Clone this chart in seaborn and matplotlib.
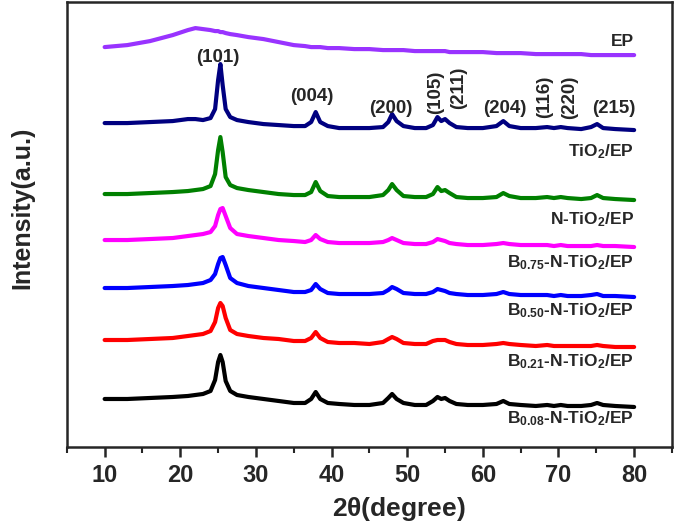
import matplotlib
matplotlib.use("Agg")
import matplotlib.pyplot as plt
import numpy as np
import pandas as pd
import seaborn as sns

# 2theta sampling points (degree)
two_theta = [10, 13, 16, 19, 21, 22, 23, 24, 24.6, 25.0, 25.3, 25.6, 26.0, 26.6, 27.5,
             29, 31, 33, 35, 36.5, 37.3, 37.9, 38.5, 39.5, 41, 43, 45, 46.8, 47.5, 48.0,
             48.6, 49.5, 51, 52.5, 53.4, 54.0, 54.5, 55.0, 55.6, 56.5, 58, 60, 61.8, 62.7,
             63.5, 65, 67, 68.5, 69.4, 70.3, 71.2, 73, 74.3, 75.1, 75.9, 77.5, 80]

# stacked intensities (a.u., offset traces)
ep = [400, 402, 406, 412, 417, 419, 418, 417, 416, 416, 415, 415, 414, 413, 412,
      410, 408, 405, 402, 401, 400, 400, 400, 399, 399, 398, 398, 397, 397, 397,
      397, 397, 396, 396, 396, 396, 396, 396, 395, 395, 395, 395, 394, 394,
      394, 394, 393, 393, 393, 393, 393, 393, 392, 392, 392, 392, 392]
tio2 = [324, 324, 325, 326, 328, 328, 327, 329, 338, 367, 383, 362, 338, 330, 327,
        325, 323, 322, 321, 321, 325, 335, 325, 321, 319, 319, 319, 320, 325, 333,
        326, 321, 319, 319, 322, 330, 326, 328, 324, 320, 319, 319, 321, 326,
        321, 319, 319, 320, 319, 320, 319, 318, 320, 323, 319, 318, 317]
n_tio2 = [253, 253, 254, 255, 256, 257, 258, 261, 273, 297, 310, 295, 270, 262, 259,
          257, 255, 253, 252, 252, 255, 265, 256, 251, 250, 250, 250, 252, 257, 263,
          257, 251, 250, 250, 253, 260, 256, 257, 254, 250, 249, 249, 250, 254,
          251, 249, 249, 250, 249, 250, 249, 248, 249, 252, 249, 248, 247]
b075 = [207, 207, 208, 209, 211, 212, 213, 215, 221, 232, 238, 239, 231, 219, 213,
        211, 209, 207, 206, 205, 207, 212, 208, 205, 204, 204, 204, 205, 207, 209,
        207, 204, 203, 203, 205, 208, 207, 206, 204, 203, 202, 202, 203, 204,
        203, 202, 202, 202, 201, 202, 201, 201, 201, 202, 201, 201, 200]
b050 = [159, 159, 160, 161, 162, 163, 164, 167, 173, 183, 189, 190, 182, 169, 164,
        161, 159, 157, 155, 155, 157, 163, 158, 154, 153, 153, 153, 154, 157, 160,
        158, 154, 153, 153, 155, 158, 157, 156, 154, 153, 152, 152, 153, 155,
        153, 152, 152, 152, 151, 152, 151, 151, 152, 153, 151, 151, 150]
b021 = [107, 107, 108, 109, 111, 112, 113, 116, 125, 139, 144, 141, 129, 117, 113,
        111, 109, 108, 106, 106, 109, 115, 109, 105, 104, 104, 103, 105, 108, 110,
        108, 104, 103, 103, 106, 107, 107, 107, 105, 103, 102, 102, 103, 104,
        103, 102, 101, 102, 101, 101, 101, 101, 101, 102, 101, 100, 100]
b008 = [48, 48, 49, 50, 51, 52, 53, 56, 67, 85, 92, 85, 66, 56, 52,
        50, 48, 46, 44, 44, 48, 55, 48, 44, 43, 42, 42, 44, 49, 53,
        48, 44, 42, 42, 46, 50, 48, 49, 46, 43, 42, 42, 43, 46,
        43, 42, 41, 42, 41, 42, 41, 41, 42, 44, 42, 41, 40]

samples = ["EP", "TiO2/EP", "N-TiO2/EP", "B0.75", "B0.50", "B0.21", "B0.08"]
sample_labels = ["EP", r"TiO$_2$/EP", r"N-TiO$_2$/EP", r"B$_{0.75}$-N-TiO$_2$/EP",
                 r"B$_{0.50}$-N-TiO$_2$/EP", r"B$_{0.21}$-N-TiO$_2$/EP",
                 r"B$_{0.08}$-N-TiO$_2$/EP"]
label_y = [401, 291, 223, 180, 132, 81, 24]
colors = ["#9933ff", "#000080", "#008000", "#ff00ff", "#0000ff", "#ff0000", "#000000"]

# anatase reflections
hkl = ["(101)", "(004)", "(200)", "(105)", "(211)", "(204)", "(116)", "(220)", "(215)"]
hkl_x = [25.0, 37.4, 47.8, 53.7, 56.8, 62.9, 68.2, 71.5, 77.3]
hkl_y = [390, 351, 339, 355, 359, 339, 350, 350, 339]
hkl_rot = [0, 0, 0, 90, 90, 0, 90, 90, 0]

series = [ep, tio2, n_tio2, b075, b050, b021, b008]
for s in series:
    assert len(s) == len(two_theta)

df = pd.concat([pd.DataFrame({"two_theta": two_theta, "intensity": vals, "sample": name})
                for name, vals in zip(samples, series)], ignore_index=True)

sns.set_style("ticks")
plt.rcParams["font.family"] = ["Liberation Sans", "DejaVu Sans"]
plt.rcParams["font.weight"] = "bold"
plt.rcParams["mathtext.default"] = "regular"

fig = plt.figure(figsize=(6.75, 5.24), dpi=100)
ax = fig.add_axes([0.099, 0.147, 0.8965, 0.849])

sns.lineplot(data=df, x="two_theta", y="intensity", hue="sample", hue_order=samples,
             palette=colors, linewidth=3.0, legend=False, ax=ax, sort=False)

for txt, y in zip(sample_labels, label_y):
    ax.text(80.0, y, txt, ha="right", va="baseline", fontsize=12.5, fontweight="bold")

for txt, x, y, r in zip(hkl, hkl_x, hkl_y, hkl_rot):
    ax.text(x, y, txt, ha="center", va="center", rotation=r, fontsize=13.5, fontweight="bold")

ax.set_xlim(5, 85)
ax.set_ylim(0, 445)
ax.set_xticks(np.arange(10, 81, 10))
ax.set_xticks(np.arange(5, 86, 5), minor=True)
ax.set_yticks([])
ax.tick_params(axis="x", which="major", length=7, width=1.8, labelsize=17, pad=5, direction="out")
ax.tick_params(axis="x", which="minor", length=4, width=1.5, direction="out")
for lbl in ax.get_xticklabels():
    lbl.set_fontweight("bold")
for sp in ax.spines.values():
    sp.set_visible(True)
    sp.set_linewidth(1.8)

ax.set_xlabel(r"2$\theta$(degree)", fontsize=19, fontweight="bold")
ax.set_ylabel("Intensity(a.u.)", fontsize=18, fontweight="bold")
ax.xaxis.set_label_coords(0.548, -0.108)
ax.yaxis.set_label_coords(-0.053, 0.537)

fig.savefig("out.png", dpi=100)
